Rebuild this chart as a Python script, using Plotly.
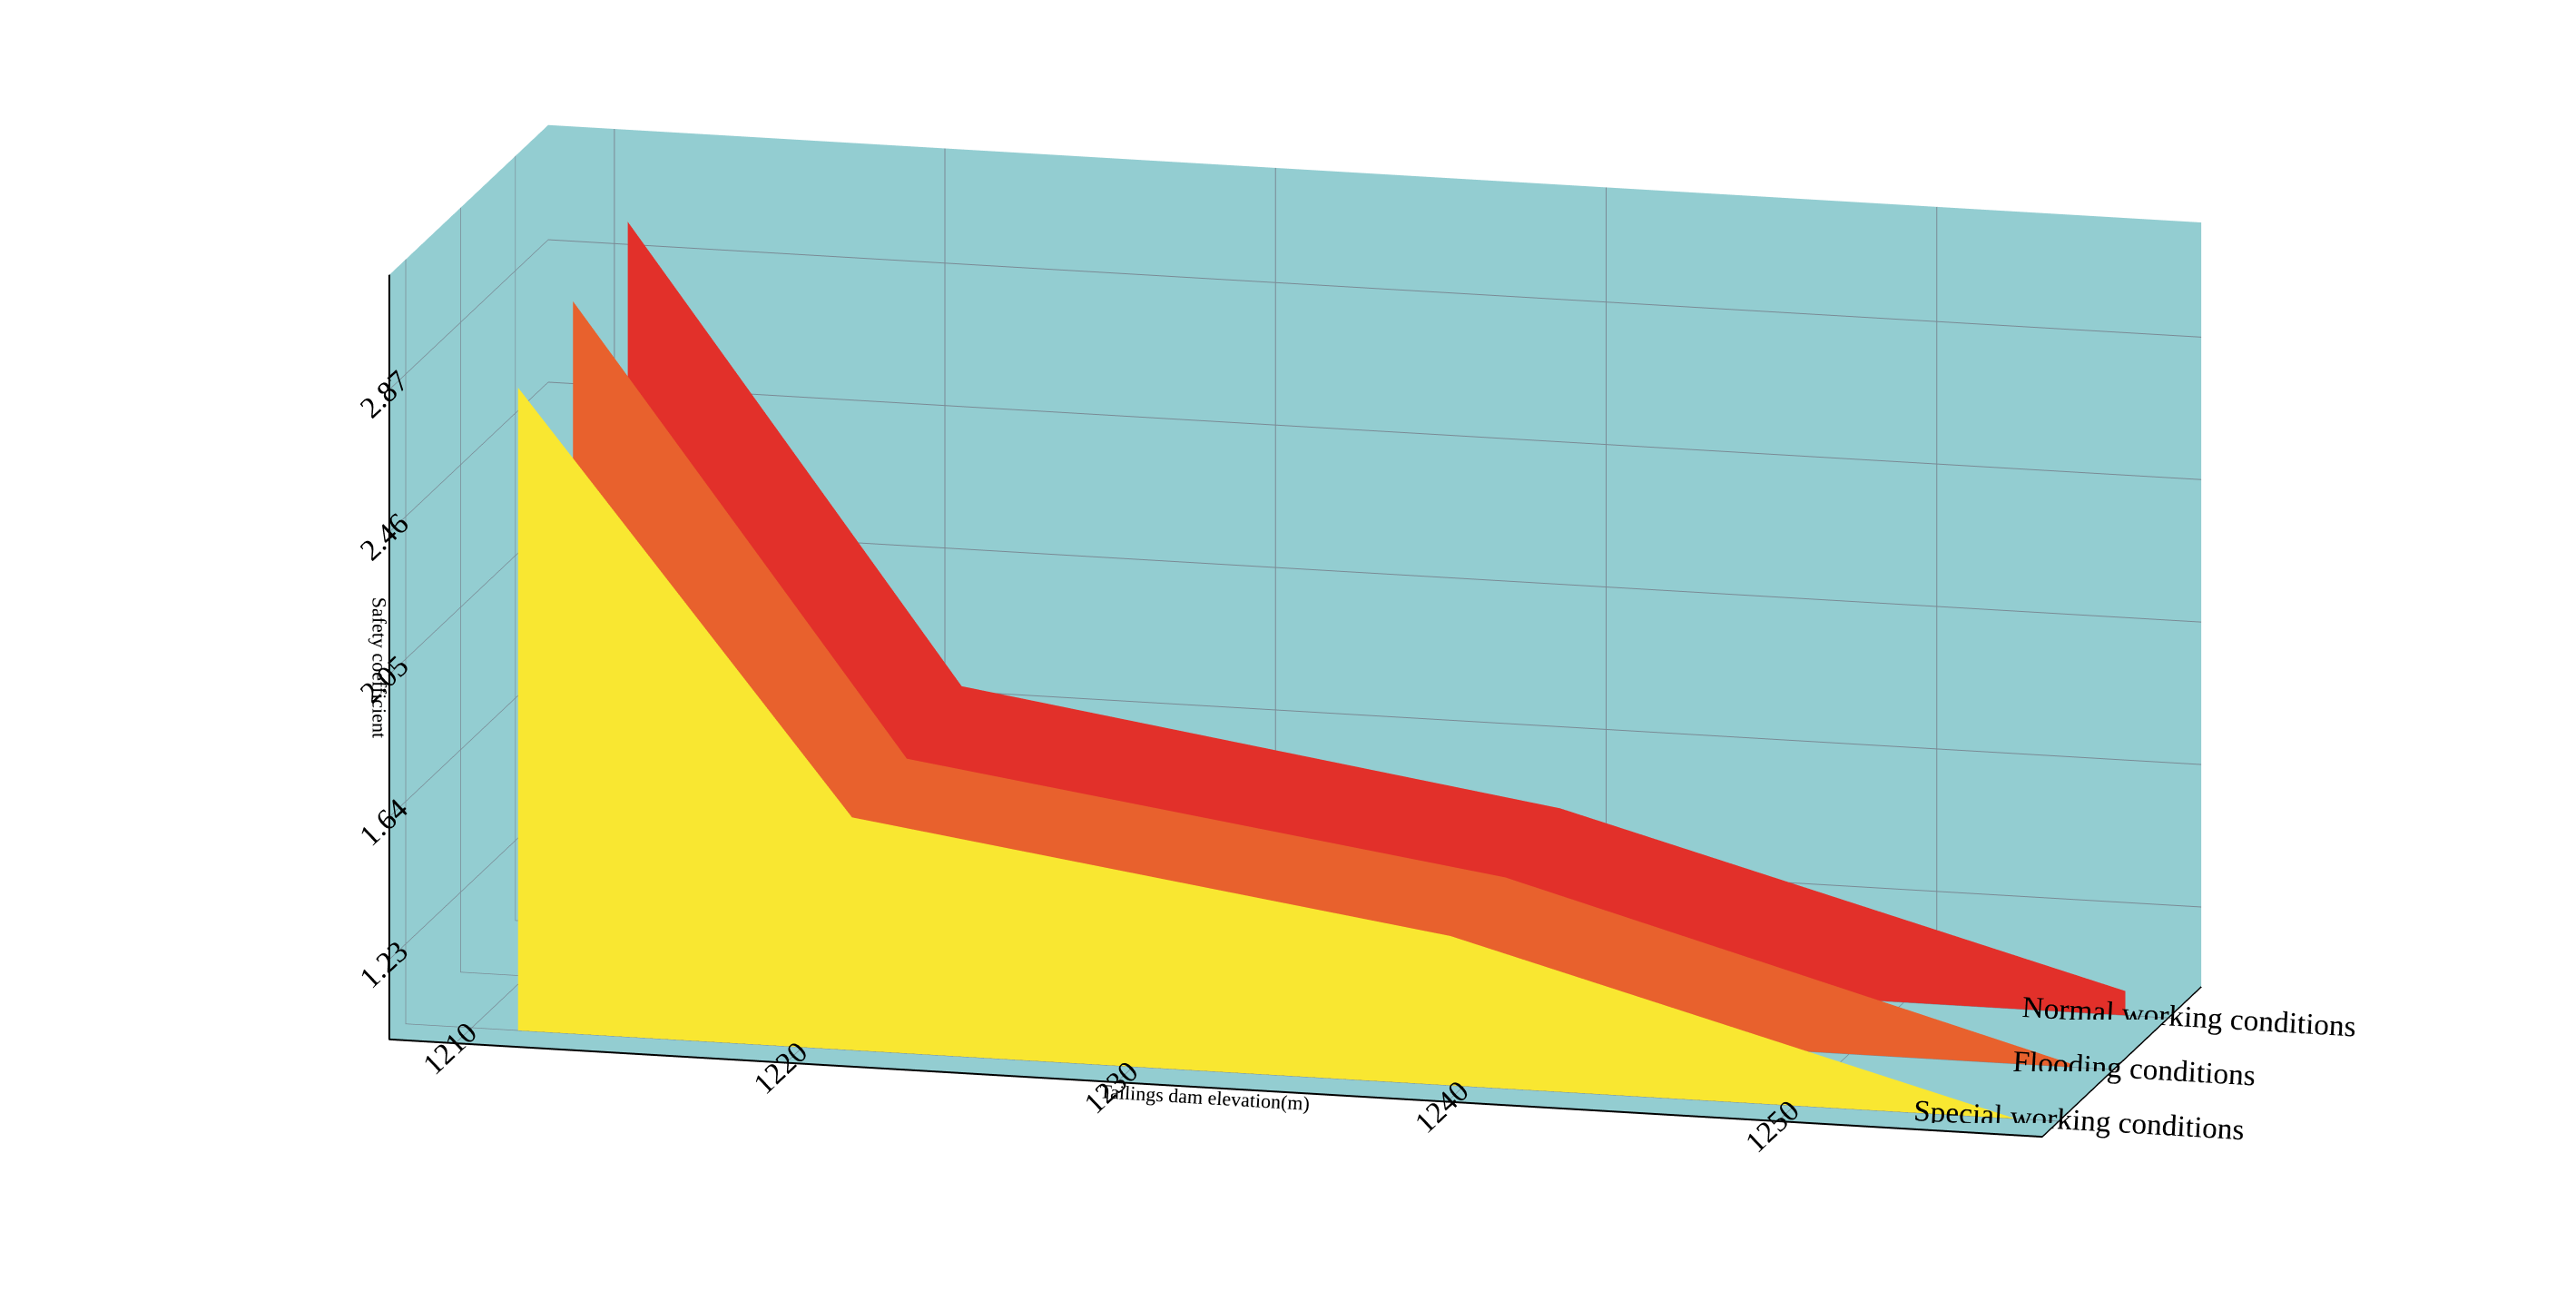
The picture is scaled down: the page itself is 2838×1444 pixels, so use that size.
import plotly.graph_objects as go

elevation = [1211.4, 1221.5, 1239.6, 1256.7]
special = [2.85, 1.67, 1.43, 1.00]
flooding = [2.95, 1.69, 1.45, 1.01]
normal = [3.03, 1.75, 1.50, 1.07]
conditions = ["Special working conditions", "Flooding conditions", "Normal working conditions"]
colors = ["#F9E731", "#E8612D", "#E2302A"]
base = 1.0
z_ticks = [1.23, 1.64, 2.05, 2.46, 2.87]


def ribbon(xs, zs, depth, color, name):
    vx, vy, vz = [], [], []
    for x, z in zip(xs, zs):
        vx += [x, x]
        vy += [depth, depth]
        vz += [z, base]
    i, j, k = [], [], []
    for n in range(len(xs) - 1):
        a, b, c, d = 2 * n, 2 * n + 1, 2 * n + 2, 2 * n + 3
        i += [a, b]
        j += [b, d]
        k += [c, c]
    return go.Mesh3d(x=vx, y=vy, z=vz, i=i, j=j, k=k, color=color, opacity=1,
                     flatshading=True, lighting=dict(ambient=1, diffuse=0, specular=0),
                     name=name, showscale=False, hoverinfo="name")


fig = go.Figure()
for d, (vals, col, nm) in enumerate(zip([special, flooding, normal], colors, conditions)):
    fig.add_trace(ribbon(elevation, vals, d, col, nm))

bg = "#93CDD1"
serif = "Liberation Serif"
axis_common = dict(showbackground=True, backgroundcolor=bg, gridcolor="#7a8a95",
                   linecolor="black", linewidth=4, showline=True, zeroline=False,
                   tickfont=dict(family=serif, size=20, color="black"),
                   ticks="outside", tickcolor="black")
fig.update_layout(
    width=2838, height=1444,
    paper_bgcolor="white",
    margin=dict(l=0, r=0, t=0, b=0),
    scene=dict(
        domain=dict(x=[0, 1], y=[0, 1]),
        xaxis=dict(axis_common, range=[1208, 1258], tickvals=[1210, 1220, 1230, 1240, 1250],
                   title=dict(text="Tailings dam elevation(m)",
                              font=dict(family=serif, size=22, color="black"))),
        yaxis=dict(axis_common, range=[-0.3, 2.6], tickvals=[0, 1, 2], ticktext=conditions,
                   title=dict(text=""),
                   tickfont=dict(family=serif, size=20, color="black")),
        zaxis=dict(axis_common, range=[base, 3.2], tickvals=z_ticks,
                   title=dict(text="Safety coefficient",
                              font=dict(family=serif, size=22, color="black"))),
        aspectmode="manual",
        aspectratio=dict(x=2.6, y=1.0, z=1.2),
        camera=dict(eye=dict(x=0.45, y=-1.8, z=0.4), up=dict(x=0, y=0, z=1),
                    center=dict(x=0, y=0, z=-0.05),
                    projection=dict(type="orthographic")),
    ),
    showlegend=False,
)
fig.write_html("out.html")
